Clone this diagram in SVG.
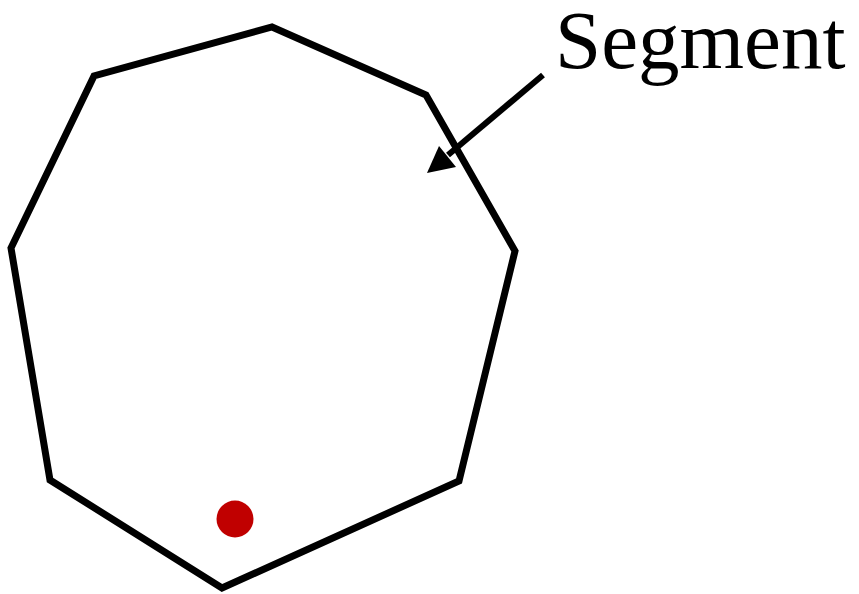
<svg xmlns="http://www.w3.org/2000/svg" width="859" height="594" viewBox="0 0 859 594">
<style>
.seg{fill:none;stroke:#000;stroke-width:7;stroke-linejoin:miter}
.lbl{font-family:"Liberation Serif","Times New Roman",serif;font-size:83px;fill:#000}
</style>
<rect width="859" height="594" fill="#fff"/>
<g id="octagon">
<polygon class="seg" points="272,27 426,95 515,251 459,481 222,588 50,480 11,248 94,76"/>
</g>
<g id="dot">
<circle cx="235" cy="519" r="18.5" fill="#c00000"/>
</g>
<g id="label">
<text class="lbl" x="555" y="68">Segment</text>
</g>
<g id="connectors">
<line x1="543" y1="75" x2="448" y2="155" stroke="#000" stroke-width="6"/>
<polygon points="427,173 439,146 456,167" fill="#000"/>
</g>
</svg>
